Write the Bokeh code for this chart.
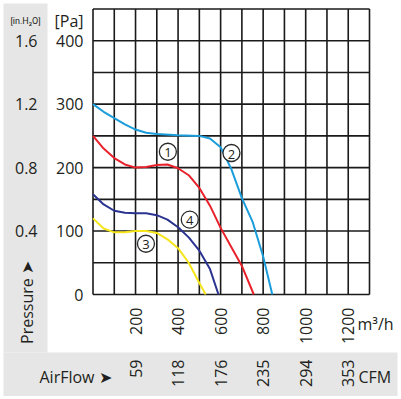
import math
from bokeh.plotting import figure
from bokeh.models import Range1d, ColumnDataSource
from bokeh.core.properties import value
from bokeh.embed import file_html
from bokeh.resources import INLINE

# ---------------- data ----------------
# curve 1 (red)
c1_flow = [0, 50, 100, 150, 200, 250, 300, 350, 400, 450, 500, 550, 600, 650, 700, 756]
c1_pa = [250, 230, 215, 205, 200, 201, 204, 205, 199, 188, 168, 140, 105, 75, 45, 0]
# curve 2 (light blue)
c2_flow = [0, 50, 100, 150, 200, 250, 300, 400, 500, 550, 600, 650, 700, 750, 800, 843]
c2_pa = [300, 288, 278, 268, 260, 255, 253, 251, 250, 246, 232, 198, 152, 115, 60, 0]
# curve 3 (yellow)
c3_flow = [0, 50, 100, 150, 200, 250, 300, 350, 400, 450, 500, 530]
c3_pa = [120, 104, 98, 98, 100, 100, 97, 87, 73, 50, 18, 0]
# curve 4 (navy)
c4_flow = [0, 50, 100, 150, 200, 250, 300, 350, 400, 450, 500, 550, 590]
c4_pa = [158, 142, 132, 129, 128, 128, 125, 118, 106, 90, 69, 40, 0]

curve_names = ["1", "2", "3", "4"]
label_flow = [352, 651, 249, 455]
label_pa = [225, 223, 80, 118]

pa_ticks = [0, 100, 200, 300, 400]
inh2o_ticks = [0.4, 0.8, 1.2, 1.6]
m3h_ticks = [200, 400, 600, 800, 1000, 1200]
cfm_labels = ["59", "118", "176", "235", "294", "353"]
grid_x = list(range(0, 1301, 100))
grid_y = list(range(0, 451, 50))
PA_PER_INH2O = 250

FONT = value("Open Sans")
TXT = "#231f20"
GRAY = "#e6e6e6"
GRID = "#1a1a1a"

# ------------- layout (pixels in the picture) -------------
OX, OY = 0, 0               # where the canvas lands in the picture
FX0, FY0 = 92.5, 294.0      # flow 0 / pressure 0
FX1, FY1 = 369.0, 8.5       # flow 1300 / pressure 450
KX = 1300 / (FX1 - FX0)
KY = 450 / (FY0 - FY1)


def X(px):
    return (px - FX0) * KX


def Y(py):
    return (FY0 - py) * KY


W, H = 398, 396
p = figure(width=W, height=H,
           x_range=Range1d(X(OX), X(OX + W)), y_range=Range1d(Y(OY + H), Y(OY)),
           output_backend="svg", toolbar_location=None,
           min_border=0, x_axis_type=None, y_axis_type=None)
p.outline_line_color = None
p.background_fill_color = "white"
p.border_fill_color = "white"
p.grid.visible = False

# gray side panels
p.quad(left=[X(3), X(3)], right=[X(47), X(397)],
       bottom=[Y(352), Y(396)], top=[Y(3), Y(352)],
       fill_color=GRAY, line_color=None)

# grid and frame
p.segment(x0=grid_x, y0=[0] * len(grid_x), x1=grid_x, y1=[450] * len(grid_x),
          line_color=GRID, line_width=1.6)
p.segment(x0=[0] * len(grid_y), y0=grid_y, x1=[1300] * len(grid_y), y1=grid_y,
          line_color=GRID, line_width=1.6)

# curves
p.line(c2_flow, c2_pa, line_color="#1b9ddb", line_width=2)
p.line(c1_flow, c1_pa, line_color="#e8212b", line_width=2)
p.line(c4_flow, c4_pa, line_color="#2b3391", line_width=2)
p.line(c3_flow, c3_pa, line_color="#f5e51b", line_width=2)

# circled curve labels
src = ColumnDataSource(dict(x=label_flow, y=label_pa, t=curve_names))
p.scatter("x", "y", source=src, size=17, marker="circle", fill_color="white",
          line_color="#2a2a2a", line_width=1.3)
p.text("x", "y", text="t", source=src, text_align="center", text_baseline="middle",
       text_font=FONT, text_font_size="13px", text_color=TXT, y_offset=1)

# tick labels
p.text(x=[X(83)] * len(pa_ticks), y=pa_ticks, text=[str(v) for v in pa_ticks],
       text_align="right", text_baseline="middle", text_font=FONT,
       text_font_size="16px", text_color=TXT)
p.text(x=[X(37)] * len(inh2o_ticks), y=[v * PA_PER_INH2O for v in inh2o_ticks],
       text=[str(v) for v in inh2o_ticks],
       text_align="right", text_baseline="middle", text_font=FONT,
       text_font_size="16px", text_color=TXT)
p.text(x=m3h_ticks, y=[Y(307)] * len(m3h_ticks), text=[str(v) for v in m3h_ticks],
       angle=math.pi / 2, text_align="right", text_baseline="middle", text_font=FONT,
       text_font_size="16px", text_color=TXT)
p.text(x=m3h_ticks, y=[Y(359)] * len(m3h_ticks), text=cfm_labels,
       angle=math.pi / 2, text_align="right", text_baseline="middle", text_font=FONT,
       text_font_size="16px", text_color=TXT)


def lab(px, py, text, size="16px", align="left", angle=0.0, font=FONT):
    p.text(x=[X(px)], y=[Y(py)], text=[text], text_font=font, text_font_size=size,
           text_color=TXT, text_align=align, text_baseline="middle", angle=angle)


lab(83, 20, "[Pa]", align="right")
lab(25, 20, "[in.H\u2082O]", size="9px", align="center", font=value("Roboto"))
lab(26, 302, "Pressure \u27a4", align="center", angle=math.pi / 2)
lab(357, 323, "m\u00b3/h")
lab(39, 376, "AirFlow \u27a4")
lab(358, 376, "CFM")

open("out.html", "w").write(file_html(p, INLINE))
